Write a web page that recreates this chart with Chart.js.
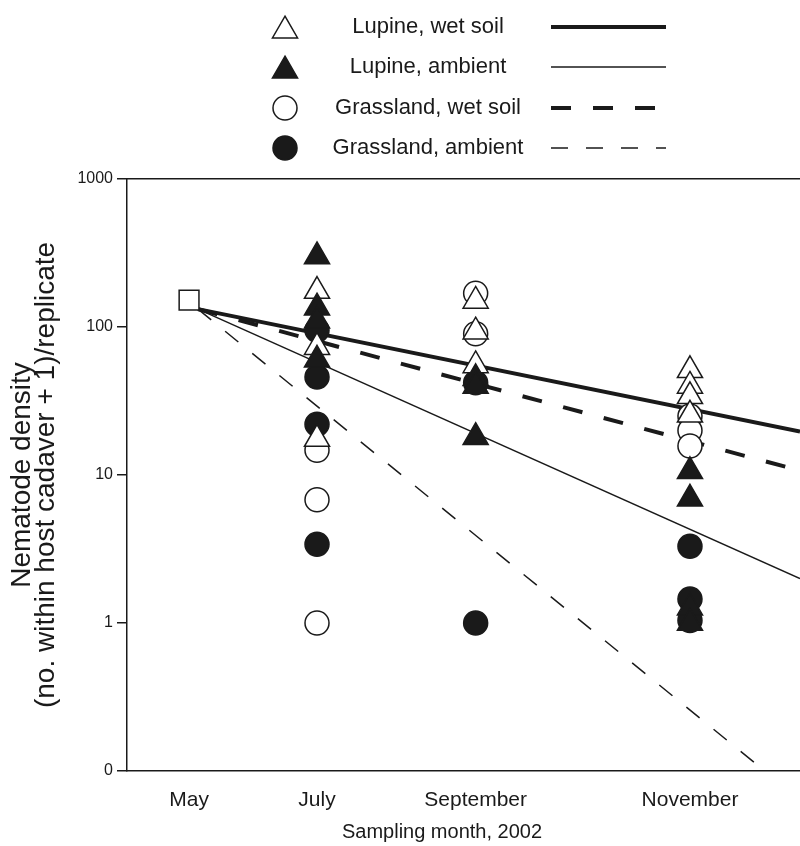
<!DOCTYPE html>
<html>
<head>
<meta charset="utf-8">
<script src="https://cdn.jsdelivr.net/npm/chart.js@4.4.1/dist/chart.umd.min.js"></script>
<style>
  html, body { margin: 0; padding: 0; background: #fff; }
  canvas { display: block; }
</style>
</head>
<body>
<canvas id="chartCanvas" width="800" height="846"></canvas>
<script>
// sampling months and where they sit on the time axis (months after the May start)
const months = ["May", "July", "September", "November"];
const monthX = [0, 2, 4.48, 7.83];

const yTicks = [0.1, 1, 10, 100, 1000];
const yTickLabels = ["0", "1", "10", "100", "1000"];

const seriesNames = ["Lupine, wet soil", "Lupine, ambient", "Grassland, wet soil", "Grassland, ambient"];
const xTitle = "Sampling month, 2002";

// starting density in May
const mayValue = [152];

// replicates for July, September, November
const lupineWet = [[175, 73, 17.5], [150, 93, 55], [51, 40, 34, 25.5]];
const lupineAmbient = [[300, 135, 110, 60], [45, 40, 18], [10.6, 6.9, 1.27, 1.0]];
const grassWet = [[14.7, 6.8, 1], [169, 90], [25, 20, 15.7]];
const grassAmbient = [[95, 46, 22, 3.4], [42, 1], [3.3, 1.45, 1.04]];

// fitted decay lines, [x, y] at both ends
const fitStart = [0.14, 132];
const lupineWetFitEnd = [9.55, 19.7];
const lupineAmbientFitEnd = [9.55, 2.0];
const grassWetFitEnd = [9.55, 10.7];
const grassAmbientFitEnd = [9.0, 0.1];

const FONT = '"Liberation Sans", Arial, Helvetica, sans-serif';
const INK = "#1a1a1a";

function toPoints(values) {
  const out = [];
  values.forEach((vals, i) => {
    vals.forEach(v => out.push({ x: monthX[i + 1], y: v }));
  });
  return out;
}

function fitLine(end) {
  return [{ x: fitStart[0], y: fitStart[1] }, { x: end[0], y: end[1] }];
}

const pointSets = [
  { values: lupineWet, style: "triangle", radius: 14.5, fill: "#fff", order: 2 },
  { values: lupineAmbient, style: "triangle", radius: 14.5, fill: INK, order: 1 },
  { values: grassWet, style: "circle", radius: 12, fill: "#fff", order: 4 },
  { values: grassAmbient, style: "circle", radius: 12, fill: INK, order: 3 },
];

const fitSets = [
  { end: lupineWetFitEnd, width: 4, dash: [] },
  { end: lupineAmbientFitEnd, width: 1.5, dash: [] },
  { end: grassWetFitEnd, width: 4, dash: [20, 22] },
  { end: grassAmbientFitEnd, width: 1.5, dash: [17, 18] },
];

const datasets = [];
pointSets.forEach((p, i) => {
  datasets.push({
    type: "scatter",
    label: seriesNames[i],
    data: toPoints(p.values),
    pointStyle: p.style,
    pointRadius: p.radius,
    pointHoverRadius: p.radius,
    backgroundColor: p.fill,
    borderColor: INK,
    borderWidth: 1.5,
    order: p.order,
  });
});
fitSets.forEach((f, i) => {
  datasets.push({
    type: "line",
    label: seriesNames[i] + " fit",
    data: fitLine(f.end),
    borderColor: INK,
    borderWidth: f.width,
    borderDash: f.dash,
    pointRadius: 0,
    fill: false,
    order: 10,
  });
});
datasets.push({
  type: "scatter",
  label: "May",
  data: mayValue.map(v => ({ x: monthX[0], y: v })),
  pointStyle: "rect",
  pointRadius: 14,
  backgroundColor: "#fff",
  borderColor: INK,
  borderWidth: 1.5,
  order: 0,
});

// legend block at the top: marker, name, line sample; plus the x axis title
const legendRows = [27, 67, 108, 148];
const legendPlugin = {
  id: "topLegend",
  afterDraw(chart) {
    const ctx = chart.ctx;
    seriesNames.forEach((name, i) => {
      const pts = chart.data.datasets[i];
      const fit = chart.data.datasets[i + 4];
      const y = legendRows[i];
      ctx.save();
      ctx.fillStyle = pts.backgroundColor;
      ctx.strokeStyle = pts.borderColor;
      ctx.lineWidth = pts.borderWidth;
      const dy = pts.pointStyle === "triangle" ? pts.pointRadius / 4 : 0;
      Chart.helpers.drawPoint(ctx, {
        pointStyle: pts.pointStyle,
        radius: pts.pointRadius,
        borderWidth: pts.borderWidth,
        rotation: 0,
      }, 285, y + dy);
      ctx.fillStyle = INK;
      ctx.font = "22px " + FONT;
      ctx.textAlign = "center";
      ctx.textBaseline = "middle";
      ctx.fillText(name, 428, y);
      ctx.beginPath();
      ctx.setLineDash(fit.borderDash);
      ctx.lineWidth = fit.borderWidth;
      ctx.strokeStyle = INK;
      ctx.moveTo(551, y);
      ctx.lineTo(666, y);
      ctx.stroke();
      ctx.restore();
    });
    ctx.save();
    ctx.fillStyle = INK;
    ctx.font = "20px " + FONT;
    ctx.textAlign = "center";
    ctx.textBaseline = "middle";
    ctx.fillText(xTitle, 442, 832);
    ctx.restore();
  },
};

function noSidePadding(s) {
  s.paddingLeft = 0;
  s.paddingRight = 0;
}

const ctx = document.getElementById("chartCanvas").getContext("2d");
new Chart(ctx, {
  data: { datasets: datasets },
  options: {
    responsive: false,
    animation: false,
    layout: { autoPadding: false, padding: { top: 179, right: 0, bottom: 0, left: 0 } },
    plugins: {
      legend: { display: false },
      title: { display: false },
      tooltip: { enabled: false },
    },
    scales: {
      x: {
        type: "linear",
        position: "bottom",
        min: -0.97,
        max: 9.55,
        afterFit: s => { s.height = 75; noSidePadding(s); },
        afterBuildTicks: s => { s.ticks = monthX.map(v => ({ value: v })); },
        grid: { display: false },
        border: { display: true, color: INK, width: 1.5 },
        ticks: {
          padding: 9,
          color: INK,
          font: { family: FONT, size: 21 },
          maxRotation: 0,
          autoSkip: false,
          callback: (v, i) => months[i],
        },
      },
      xTop: {
        type: "linear",
        position: "top",
        afterFit: s => { s.height = 0; noSidePadding(s); },
        grid: { display: false },
        ticks: { display: false },
        border: { display: true, color: INK, width: 1.5 },
      },
      y: {
        type: "logarithmic",
        position: "left",
        min: 0.1,
        max: 1000,
        afterFit: s => { s.width = 127; s.paddingTop = 0; s.paddingBottom = 0; },
        afterBuildTicks: s => { s.ticks = yTicks.map(v => ({ value: v })); },
        grid: {
          display: true,
          drawOnChartArea: false,
          drawTicks: true,
          tickLength: 10,
          color: INK,
          lineWidth: 1.5,
        },
        border: { display: true, color: INK, width: 1.5 },
        ticks: {
          padding: 4,
          color: INK,
          font: { family: FONT, size: 16 },
          autoSkip: false,
          callback: (v, i) => yTickLabels[i],
        },
        title: {
          display: true,
          text: ["Nematode density", "(no. within host cadaver + 1)/replicate"],
          color: INK,
          font: { family: FONT, size: 28, lineHeight: "24px" },
          padding: { top: 10, bottom: 0 },
        },
      },
    },
  },
  plugins: [legendPlugin],
});
</script>
</body>
</html>
